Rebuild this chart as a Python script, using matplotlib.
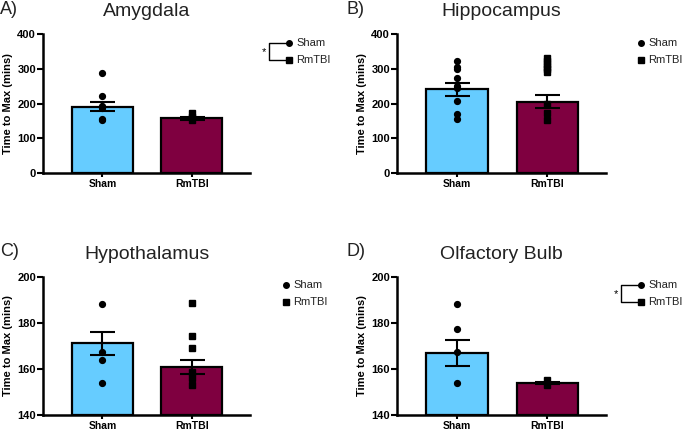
import matplotlib
matplotlib.use("Agg")
import matplotlib.pyplot as plt
import matplotlib.transforms as mtransforms
import numpy as np

plt.rcParams['font.family'] = ['Liberation Sans', 'DejaVu Sans']

groups = ["Sham", "RmTBI"]
panel_labels = ["A)", "B)", "C)", "D)"]
titles = ["Amygdala", "Hippocampus", "Hypothalamus", "Olfactory Bulb"]

means_amyg = [191, 157]
sem_amyg = [13, 5]
pts_amyg_sham = [288, 221, 194, 188, 156, 152]
pts_amyg_rm = [174, 160, 152]

means_hipp = [241, 205]
sem_hipp = [19, 19]
pts_hipp_sham = [323, 305, 298, 272, 250, 245, 208, 170, 156]
pts_hipp_rm = [330, 322, 314, 306, 298, 291, 198, 172, 153]

means_hypo = [171.2, 160.7]
sem_hypo = [4.9, 3.0]
pts_hypo_sham = [188.3, 167.5, 164.0, 154.0]
pts_hypo_rm = [188.6, 174.4, 169.2, 158.8, 156.0, 153.0]

means_olf = [166.9, 153.9]
sem_olf = [5.5, 0.6]
pts_olf_sham = [188.3, 177.2, 167.5, 154.0]
pts_olf_rm = [155.2, 153.0]

yticks_top = [0, 100, 200, 300, 400]
yticks_bottom = [140, 160, 180, 200]

significant = [True, False, False, True]

colors = ["#66CCFF", "#7F0040"]

W, H = 685, 430
fig = plt.figure(figsize=(W / 100, H / 100), dpi=100)
pix = mtransforms.Affine2D().scale(1 / W, -1 / H).translate(0, 1) + fig.transFigure

def ax_rect(x0, x1, ytop, ybot):
    return [x0 / W, 1 - ybot / H, (x1 - x0) / W, (ybot - ytop) / H]

rects = [ax_rect(43, 250, 34, 173), ax_rect(397, 606, 34, 173),
         ax_rect(43, 250, 277, 415), ax_rect(397, 606, 277, 415)]

data = [
    (means_amyg, sem_amyg, pts_amyg_sham, pts_amyg_rm, yticks_top),
    (means_hipp, sem_hipp, pts_hipp_sham, pts_hipp_rm, yticks_top),
    (means_hypo, sem_hypo, pts_hypo_sham, pts_hypo_rm, yticks_bottom),
    (means_olf, sem_olf, pts_olf_sham, pts_olf_rm, yticks_bottom),
]

legend_anchor = [(289, 43), (641, 43), (286, 285), (641, 285)]
letter_pos = [(0, 9), (347, 9), (0, 251), (347, 251)]

for i, (means, sems, ps, pr, yt) in enumerate(data):
    ax = fig.add_axes(rects[i])
    x = np.arange(len(groups))
    ax.bar(x, np.array(means) - yt[0], bottom=yt[0], width=0.68, color=colors,
           edgecolor="black", linewidth=1.6, zorder=2)
    ax.errorbar(x, means, yerr=sems, fmt="none", ecolor="black", elinewidth=1.5,
                capsize=9, capthick=1.5, zorder=3)
    ax.plot(np.zeros(len(ps)), ps, "o", color="black", markersize=4.2, zorder=4, clip_on=False)
    ax.plot(np.ones(len(pr)), pr, "s", color="black", markersize=4.0, zorder=4, clip_on=False)
    ax.set_xlim(-0.665, 1.65)
    ax.set_ylim(yt[0], yt[-1])
    ax.set_yticks(yt)
    ax.set_xticks(x)
    ax.set_xticklabels(groups, fontsize=7.5, fontweight="bold")
    for lab in ax.get_yticklabels():
        lab.set_fontsize(8)
        lab.set_fontweight("bold")
    ax.tick_params(axis="y", length=4, width=1.5, pad=1)
    ax.tick_params(axis="x", length=3, width=1.5, pad=1.5)
    for s in ["top", "right"]:
        ax.spines[s].set_visible(False)
    for s in ["left", "bottom"]:
        ax.spines[s].set_linewidth(1.8)
    ax.set_ylabel("Time to Max (mins)", fontsize=8, fontweight="bold", labelpad=3)
    ax.set_title(titles[i], fontsize=14, color="#222222", pad=13)
    lx, ly = letter_pos[i]
    fig.text(lx, ly, panel_labels[i], transform=pix, fontsize=13, color="#222222",
             va="center", ha="left")
    # legend
    mx, my = legend_anchor[i]
    fig.lines.append(plt.Line2D([mx], [my], marker="o", color="black", markersize=4, transform=pix))
    fig.lines.append(plt.Line2D([mx], [my + 17], marker="s", color="black", markersize=3.8, transform=pix))
    fig.text(mx + 7, my, groups[0], transform=pix, fontsize=8, va="center", ha="left", color="#222222")
    fig.text(mx + 7, my + 17, groups[1], transform=pix, fontsize=8, va="center", ha="left", color="#222222")
    if significant[i]:
        bx = mx - 20
        fig.lines.append(plt.Line2D([mx - 3, bx, bx, mx - 3], [my, my, my + 17, my + 17],
                                    color="black", linewidth=1.0, transform=pix))
        fig.text(bx - 3, my + 9, "*", transform=pix, fontsize=8, va="center", ha="right")

fig.savefig("out.png", dpi=100)
